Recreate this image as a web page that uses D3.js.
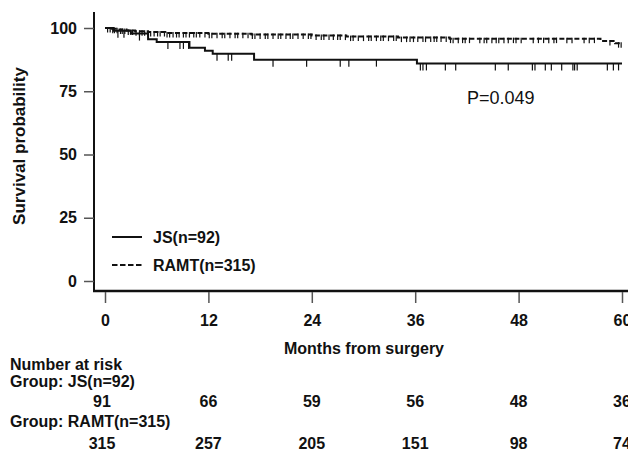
<!DOCTYPE html>
<html>
<head>
<meta charset="utf-8">
<script src="https://d3js.org/d3.v7.min.js"></script>
<style>
body { margin: 0; background: #fff; }
text { font-family: "Liberation Sans", Arial, sans-serif; fill: #111; }
.lbl { font-weight: bold; font-size: 16px; }
</style>
</head>
<body>
<div id="chart"></div>
<script>
// step curves: [month, survival %]
var jsSteps = [[0,100],[1.0,98.9],[3.0,97.8],[5.0,95.6],[6.0,94.5],[9.8,92.2],[11.6,91.0],[12.5,89.8],[17.3,87.5],[36.2,86.0],[60,86.0]];
var ramtSteps = [[0,100],[0.8,99.7],[1.5,99.4],[2.5,99.0],[3.5,98.7],[5.0,98.4],[7.0,98.0],[12.0,97.7],[17.0,97.4],[24.0,97.0],[28.0,96.6],[34.0,96.2],[40.0,95.8],[57.5,94.9],[59.2,94.0],[60,94.0]];

// censor marks (months)
var jsCensor = [1.5, 2.2, 4.0, 7.3, 8.7, 9.1, 9.7, 13.0, 14.3, 14.7, 19.5, 23.4, 27.3, 28.3, 31.5,
  36.6, 36.9, 37.3, 39.5, 40.7, 45.3, 46.8, 49.6, 49.9, 51.1, 51.8, 53.0, 54.3, 54.5, 54.8, 58.3, 59.0, 59.6];
var ramtCensor = [0.3, 0.6, 0.9, 1.1, 1.4, 1.8, 2.0, 2.3, 2.7, 3.0, 3.2, 3.6, 4.0, 4.3, 4.6, 5.0, 5.3, 5.7,
  6.1, 6.4, 6.9, 7.2, 7.5, 7.9, 8.3, 8.6, 9.1, 9.4, 9.8, 10.3, 10.6, 11.0, 11.6, 12.1, 12.4, 13.0, 13.6,
  13.9, 14.5, 15.1, 15.4, 16.0, 16.6, 17.1, 17.4, 18.0, 18.6, 18.9, 19.5, 20.1, 20.4, 21.0, 21.5, 21.8,
  22.4, 23.0, 23.6, 23.9, 24.5, 25.1, 25.4, 26.0, 26.5, 27.0, 27.3, 27.9, 28.5, 28.8, 29.4, 30.0, 30.6,
  30.9, 31.5, 32.0, 32.3, 32.9, 33.5, 33.8, 34.4, 35.0, 35.4, 35.8, 36.3, 36.9, 37.2, 37.8, 38.2, 38.5,
  39.0, 39.6, 40.1, 40.4, 41.0, 41.5, 41.8, 42.3, 43.5, 44.0, 44.3, 44.9, 45.4, 45.7, 46.3, 46.8, 47.4,
  47.7, 48.3, 49.7, 50.3, 50.9, 51.5, 52.1, 52.4, 53.6, 54.2, 55.6, 56.2, 56.8, 58.6, 59.6, 59.9];

var xTicks = [0, 12, 24, 36, 48, 60];
var yTicks = [0, 25, 50, 75, 100];
var riskJS = [91, 66, 59, 56, 48, 36];
var riskRAMT = [315, 257, 205, 151, 98, 74];

var width = 628, height = 455;

var svg = d3.select("#chart").append("svg")
  .attr("width", width)
  .attr("height", height);

var x = d3.scaleLinear().domain([0, 60]).range([105, 622]);
var y = d3.scaleLinear().domain([0, 100]).range([281, 28]);

// frame lines
svg.append("line")
  .attr("x1", 94).attr("x2", 94).attr("y1", 12).attr("y2", 292)
  .attr("stroke", "#111").attr("stroke-width", 2);
svg.append("line")
  .attr("x1", 93).attr("x2", 628).attr("y1", 291).attr("y2", 291)
  .attr("stroke", "#111").attr("stroke-width", 2.5);

// y axis
var yAxis = svg.append("g")
  .attr("transform", "translate(94,0)")
  .call(d3.axisLeft(y).tickValues(yTicks).tickSize(10).tickSizeOuter(0).tickPadding(7));
yAxis.select(".domain").remove();
yAxis.selectAll("line").attr("stroke", "#555").attr("stroke-width", 1.5);
yAxis.selectAll("text").attr("class", "lbl").attr("fill", "#111");

// x axis
var xAxis = svg.append("g")
  .attr("transform", "translate(0,292)")
  .call(d3.axisBottom(x).tickValues(xTicks).tickSize(11).tickSizeOuter(0).tickPadding(12));
xAxis.select(".domain").remove();
xAxis.selectAll("line").attr("stroke", "#555").attr("stroke-width", 1.5);
xAxis.selectAll("text").attr("class", "lbl").attr("fill", "#111");

// titles
svg.append("text")
  .attr("class", "lbl")
  .style("font-size", "17px")
  .attr("transform", "translate(25,146) rotate(-90)")
  .attr("text-anchor", "middle")
  .text("Survival probability");

svg.append("text")
  .attr("class", "lbl")
  .attr("x", 364).attr("y", 354)
  .attr("text-anchor", "middle")
  .text("Months from surgery");

svg.append("text")
  .attr("x", 467).attr("y", 104)
  .style("font-size", "18px")
  .text("P=0.049");

// curves
var line = d3.line()
  .x(function(d) { return x(d[0]); })
  .y(function(d) { return y(d[1]); })
  .curve(d3.curveStepAfter);

function survAt(steps, t) {
  var s = steps[0][1];
  steps.forEach(function(d) { if (d[0] <= t) s = d[1]; });
  return s;
}

svg.append("path")
  .datum(ramtSteps)
  .attr("d", line)
  .attr("fill", "none")
  .attr("stroke", "#111")
  .attr("stroke-width", 2)
  .attr("stroke-dasharray", "5,2.5");

svg.append("path")
  .datum(jsSteps)
  .attr("d", line)
  .attr("fill", "none")
  .attr("stroke", "#111")
  .attr("stroke-width", 2);

svg.append("g").selectAll("line")
  .data(ramtCensor)
  .enter().append("line")
  .attr("x1", function(d) { return x(d); })
  .attr("x2", function(d) { return x(d); })
  .attr("y1", function(d) { return y(survAt(ramtSteps, d)) - 1; })
  .attr("y2", function(d) { return y(survAt(ramtSteps, d)) + 4.5; })
  .attr("stroke", "#111")
  .attr("stroke-width", 1.2);

svg.append("g").selectAll("line")
  .data(jsCensor)
  .enter().append("line")
  .attr("x1", function(d) { return x(d); })
  .attr("x2", function(d) { return x(d); })
  .attr("y1", function(d) { return y(survAt(jsSteps, d)); })
  .attr("y2", function(d) { return y(survAt(jsSteps, d)) + 7; })
  .attr("stroke", "#111")
  .attr("stroke-width", 1.2);

// legend
var legend = [{name: "JS(n=92)", dash: null, yy: 237}, {name: "RAMT(n=315)", dash: "5.5,2.5", yy: 265}];
legend.forEach(function(l) {
  svg.append("line")
    .attr("x1", 112).attr("x2", 142).attr("y1", l.yy).attr("y2", l.yy)
    .attr("stroke", "#111").attr("stroke-width", 2)
    .attr("stroke-dasharray", l.dash);
  svg.append("text")
    .attr("class", "lbl")
    .attr("x", 153).attr("y", l.yy + 5.5)
    .text(l.name);
});

// number at risk table
svg.append("text").attr("class", "lbl").attr("x", 10).attr("y", 370).text("Number at risk");
svg.append("text").attr("class", "lbl").attr("x", 10).attr("y", 387).text("Group: JS(n=92)");
svg.append("text").attr("class", "lbl").attr("x", 10).attr("y", 427).text("Group: RAMT(n=315)");

svg.append("g").selectAll("text")
  .data(riskJS)
  .enter().append("text")
  .attr("class", "lbl")
  .attr("text-anchor", "middle")
  .attr("x", function(d, i) { return x(xTicks[i]) - (i === 0 ? 3 : 0); })
  .attr("y", 407)
  .text(function(d) { return d; });

svg.append("g").selectAll("text")
  .data(riskRAMT)
  .enter().append("text")
  .attr("class", "lbl")
  .attr("text-anchor", "middle")
  .attr("x", function(d, i) { return x(xTicks[i]) - (i === 0 ? 3 : 0); })
  .attr("y", 449)
  .text(function(d) { return d; });
</script>
</body>
</html>
